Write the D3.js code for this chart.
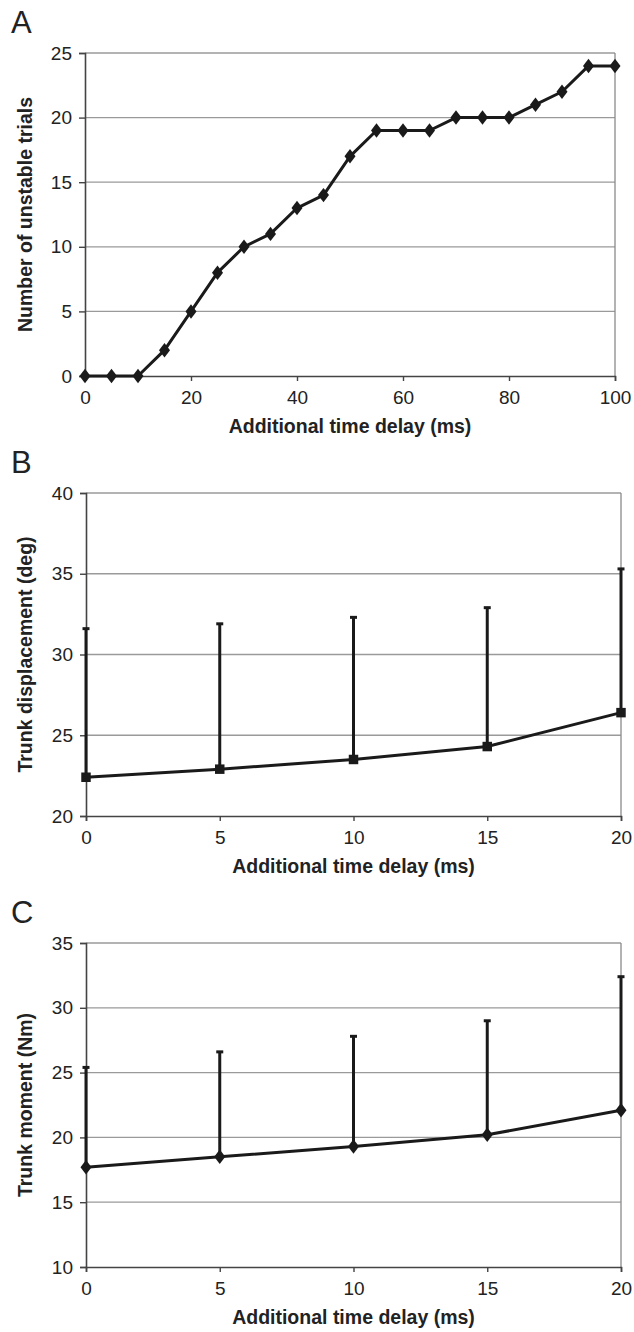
<!DOCTYPE html>
<html>
<head>
<meta charset="utf-8">
<script src="https://cdn.jsdelivr.net/npm/d3@7"></script>
<style>
  body { margin: 0; background: #fff; }
  svg { display: block; font-family: "Liberation Sans", Arial, sans-serif; }
</style>
</head>
<body>
<svg id="chart" width="634" height="1332"></svg>
<script>
// panel A - number of unstable trials
var delayA = [0, 5, 10, 15, 20, 25, 30, 35, 40, 45, 50, 55, 60, 65, 70, 75, 80, 85, 90, 95, 100];
var unstable = [0, 0, 0, 2, 5, 8, 10, 11, 13, 14, 17, 19, 19, 19, 20, 20, 20, 21, 22, 24, 24];
var ticksA = [0, 20, 40, 60, 80, 100];
var yTicksA = [0, 5, 10, 15, 20, 25];

// panels B and C
var delayBC = [0, 5, 10, 15, 20];
var ticksBC = [0, 5, 10, 15, 20];
var trunkDisp = [22.4, 22.9, 23.5, 24.3, 26.4];
var trunkDispTop = [31.6, 31.9, 32.3, 32.9, 35.3];
var yTicksB = [20, 25, 30, 35, 40];
var trunkMoment = [17.7, 18.5, 19.3, 20.2, 22.1];
var trunkMomentTop = [25.4, 26.6, 27.8, 29.0, 32.4];
var yTicksC = [10, 15, 20, 25, 30, 35];

var svg = d3.select("#chart");

function drawPanel(p) {
    var g = svg.append("g");

    var x = d3.scaleLinear().domain(p.xDomain).range([p.left, p.right]);
    var y = d3.scaleLinear().domain(p.yDomain).range([p.bottom, p.top]);

    // grid lines
    g.selectAll(".grid")
        .data(p.yTicks.filter(function (d) { return d !== p.yDomain[0]; }))
        .enter()
        .append("line")
        .attr("x1", p.left).attr("x2", p.right)
        .attr("y1", function (d) { return y(d); })
        .attr("y2", function (d) { return y(d); })
        .attr("stroke", "#9a9a9a")
        .attr("stroke-width", 1.3);

    // right border
    g.append("line")
        .attr("x1", p.right).attr("x2", p.right)
        .attr("y1", p.top).attr("y2", p.bottom)
        .attr("stroke", "#8a8a8a")
        .attr("stroke-width", 1.3);

    var yAxis = g.append("g")
        .attr("transform", "translate(" + p.left + ",0)")
        .call(d3.axisLeft(y).tickValues(p.yTicks).tickSize(6).tickPadding(7));

    var xAxis = g.append("g")
        .attr("transform", "translate(0," + p.bottom + ")")
        .call(d3.axisBottom(x).tickValues(p.xTicks).tickSize(5).tickPadding(10));

    [yAxis, xAxis].forEach(function (ax) {
        ax.select(".domain").attr("stroke", "#444").attr("stroke-width", 1.6);
        ax.selectAll(".tick line").attr("stroke", "#444").attr("stroke-width", 1.4);
        ax.selectAll(".tick text")
            .attr("fill", "#222")
            .style("font-size", "19px")
            .style("font-family", "'Liberation Sans', Arial, sans-serif");
    });

    // error bars (upward only)
    if (p.top_err) {
        g.selectAll(".err")
            .data(p.xs.map(function (d, i) { return { x: d, y: p.ys[i], t: p.top_err[i] }; }))
            .enter()
            .append("g")
            .each(function (d) {
                var e = d3.select(this);
                e.append("line")
                    .attr("x1", x(d.x)).attr("x2", x(d.x))
                    .attr("y1", y(d.y)).attr("y2", y(d.t))
                    .attr("stroke", "#1a1a1a").attr("stroke-width", 3);
                e.append("line")
                    .attr("x1", x(d.x) - 3.5).attr("x2", x(d.x) + 3.5)
                    .attr("y1", y(d.t)).attr("y2", y(d.t))
                    .attr("stroke", "#1a1a1a").attr("stroke-width", 3);
            });
    }

    var line = d3.line()
        .x(function (d, i) { return x(p.xs[i]); })
        .y(function (d) { return y(d); });

    g.append("path")
        .datum(p.ys)
        .attr("d", line)
        .attr("fill", "none")
        .attr("stroke", "#1a1a1a")
        .attr("stroke-width", 3)
        .attr("stroke-linejoin", "round");

    var sym = d3.symbol().type(p.marker === "square" ? d3.symbolSquare : d3.symbolDiamond)
        .size(p.marker === "square" ? 90 : 80);

    g.selectAll(".marker")
        .data(p.ys)
        .enter()
        .append("path")
        .attr("class", "marker")
        .attr("d", sym)
        .attr("transform", function (d, i) {
            return "translate(" + x(p.xs[i]) + "," + y(d) + ")" + (p.marker === "square" ? "" : " scale(1.15,0.87)");
        })
        .attr("fill", "#1a1a1a");

    // titles
    g.append("text")
        .attr("x", (p.left + p.right) / 2)
        .attr("y", p.bottom + 57)
        .attr("text-anchor", "middle")
        .style("font-size", "19.5px")
        .style("font-weight", "bold")
        .attr("fill", "#222")
        .text("Additional time delay (ms)");

    g.append("text")
        .attr("transform", "translate(" + 32 + "," + (p.top + p.bottom) / 2 + ") rotate(-90)")
        .attr("text-anchor", "middle")
        .style("font-size", "19.5px")
        .style("font-weight", "bold")
        .attr("fill", "#222")
        .text(p.yTitle);

    g.append("text")
        .attr("x", 11)
        .attr("y", p.top - 20)
        .style("font-size", "31px")
        .attr("fill", "#222")
        .text(p.letter);
}

drawPanel({
    letter: "A", left: 85, right: 615, top: 53, bottom: 376,
    xDomain: [0, 100], yDomain: [0, 25], xTicks: ticksA, yTicks: yTicksA,
    xs: delayA, ys: unstable, marker: "diamond",
    yTitle: "Number of unstable trials"
});

drawPanel({
    letter: "B", left: 86, right: 621, top: 493, bottom: 816,
    xDomain: [0, 20], yDomain: [20, 40], xTicks: ticksBC, yTicks: yTicksB,
    xs: delayBC, ys: trunkDisp, top_err: trunkDispTop, marker: "square",
    yTitle: "Trunk displacement (deg)"
});

drawPanel({
    letter: "C", left: 86, right: 621, top: 943, bottom: 1267,
    xDomain: [0, 20], yDomain: [10, 35], xTicks: ticksBC, yTicks: yTicksC,
    xs: delayBC, ys: trunkMoment, top_err: trunkMomentTop, marker: "diamond",
    yTitle: "Trunk moment (Nm)"
});
</script>
</body>
</html>
